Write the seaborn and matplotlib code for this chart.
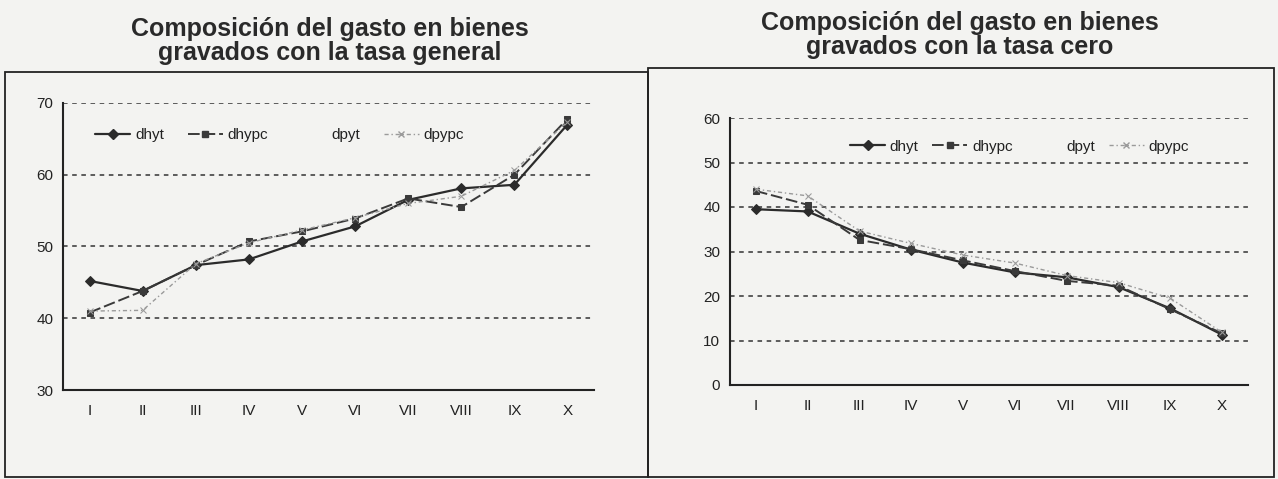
import matplotlib
matplotlib.use("Agg")
import matplotlib.pyplot as plt
from matplotlib.lines import Line2D
from matplotlib.patches import Rectangle
import seaborn as sns
import numpy as np

# ---------------- data ----------------
deciles = ["I", "II", "III", "IV", "V", "VI", "VII", "VIII", "IX", "X"]

gen_dhyt = [45.2, 43.8, 47.4, 48.2, 50.7, 52.8, 56.5, 58.1, 58.6, 67.0]
gen_dhypc = [40.8, 43.8, 47.4, 50.7, 52.1, 53.9, 56.7, 55.5, 60.0, 67.8]
gen_dpypc = [41.0, 41.1, 47.6, 50.5, 52.3, 54.0, 56.0, 57.0, 60.6, 67.4]

cero_dhyt = [39.5, 39.0, 34.0, 30.4, 27.5, 25.3, 24.2, 22.0, 17.2, 11.3]
cero_dhypc = [43.6, 40.5, 32.6, 30.5, 28.0, 25.6, 23.4, 22.3, 17.0, 11.6]
cero_dpypc = [44.0, 42.5, 34.6, 31.8, 29.2, 27.4, 24.6, 23.0, 19.5, 11.8]

series_names = ["dhyt", "dhypc", "dpyt", "dpypc"]
titles = ["Composición del gasto en bienes\ngravados con la tasa general",
          "Composición del gasto en bienes\ngravados con la tasa cero"]

# ---------------- style ----------------
sns.set_theme(style="white")
plt.rcParams["font.family"] = ["Liberation Sans", "DejaVu Sans"]
BG = "#f3f3f1"
W, H = 1278, 479
fig = plt.figure(figsize=(W / 100, H / 100), dpi=100, facecolor=BG)

def fx(px):
    return px / W

def fy(py):
    return 1 - py / H

# panel frames
fig.add_artist(Rectangle((fx(5), fy(477)), fx(648) - fx(5), fy(72) - fy(477),
                         transform=fig.transFigure, fill=False, lw=1.3, ec="#222222"))
fig.add_artist(Rectangle((fx(648), fy(477)), fx(1274) - fx(648), fy(68) - fy(477),
                         transform=fig.transFigure, fill=False, lw=1.3, ec="#222222"))

# titles
fig.text(fx(330), fy(41), titles[0], ha="center", va="center", fontsize=18,
         fontweight="bold", color="#2a2a2a", linespacing=1.0)
fig.text(fx(960), fy(35), titles[1], ha="center", va="center", fontsize=18,
         fontweight="bold", color="#2a2a2a", linespacing=1.0)

ax1 = fig.add_axes([fx(63), fy(390), fx(594) - fx(63), fy(103) - fy(390)])
ax2 = fig.add_axes([fx(730), fy(385), fx(1248) - fx(730), fy(118) - fy(385)])

x = np.arange(len(deciles))

styles = {
    "dhyt": dict(color="#2b2b2b", linestyle="-", marker="D", markersize=5, lw=1.6),
    "dhypc": dict(color="#3a3a3a", linestyle=(0, (6, 2)), marker="s", markersize=5, lw=1.4),
    "dpypc": dict(color="#9a9a9a", linestyle=(0, (3, 2, 1, 2)), marker="x", markersize=5, lw=1.0),
}

def draw(ax, data, ylim, yticks):
    ax.set_facecolor(BG)
    for name, vals in data.items():
        st = styles[name]
        sns.lineplot(x=x, y=vals, ax=ax, color=st["color"], linestyle=st["linestyle"],
                     marker=st["marker"], markersize=st["markersize"], lw=st["lw"],
                     markeredgecolor=st["color"], markerfacecolor=st["color"],
                     legend=False)
    ax.set_xlim(-0.5, len(deciles) - 0.5)
    ax.set_ylim(*ylim)
    ax.set_yticks(yticks)
    ax.set_xticks(x)
    ax.set_xticklabels(deciles)
    ax.tick_params(axis="both", labelsize=11, colors="#222222", length=0, pad=10)
    ax.tick_params(axis="y", pad=4)
    ax.set_xticks(np.arange(-0.5, len(deciles), 1.0), minor=True)
    ax.tick_params(axis="x", which="minor", length=4, direction="out", color="#333333")
    ax.tick_params(axis="y", which="major", length=3, direction="out", color="#333333")
    for yv in yticks[1:]:
        ax.axhline(yv, color="#333333", lw=1.1, linestyle=(0, (3, 3)), zorder=0)
    for s in ["top", "right"]:
        ax.spines[s].set_visible(False)
    ax.spines["left"].set_color("#222222")
    ax.spines["left"].set_linewidth(1.5)
    ax.spines["bottom"].set_color("#222222")
    ax.spines["bottom"].set_linewidth(1.5)
    ax.set_xlabel("")
    ax.set_ylabel("")

draw(ax1, {"dhyt": gen_dhyt, "dhypc": gen_dhypc, "dpypc": gen_dpypc}, (30, 70), [30, 40, 50, 60, 70])
draw(ax2, {"dhyt": cero_dhyt, "dhypc": cero_dhypc, "dpypc": cero_dpypc}, (0, 60), [0, 10, 20, 30, 40, 50, 60])

def handles():
    hs = []
    hs.append(Line2D([], [], **{k: v for k, v in styles["dhyt"].items()}))
    hs.append(Line2D([], [], **{k: v for k, v in styles["dhypc"].items()}))
    hs.append(Line2D([], [], color=BG, lw=1.0))
    hs.append(Line2D([], [], **{k: v for k, v in styles["dpypc"].items()}))
    return hs

for ax, anchor, cs in [(ax1, (0.035, 0.96), 1.55), (ax2, (0.205, 0.97), 0.9)]:
    leg = ax.legend(handles(), series_names, loc="upper left", bbox_to_anchor=anchor,
                    ncol=4, frameon=False, fontsize=11, handlelength=2.3,
                    handletextpad=0.3, columnspacing=cs)
    for t in leg.get_texts():
        t.set_color("#222222")

fig.savefig("out.png", dpi=100, facecolor=BG)
